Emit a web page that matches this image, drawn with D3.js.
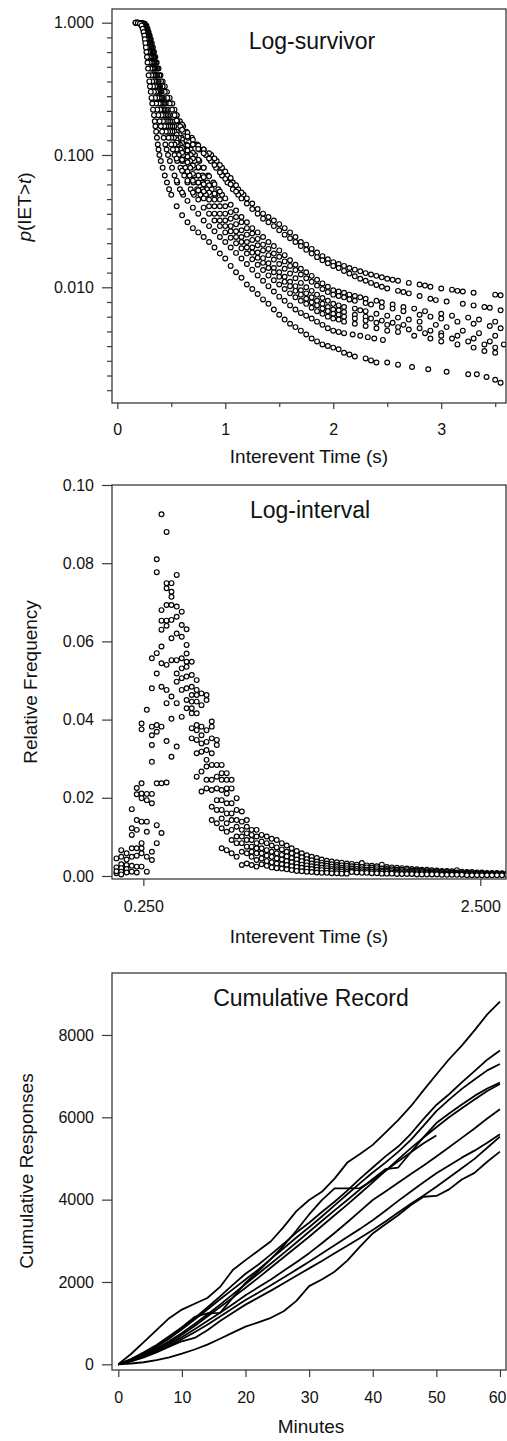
<!DOCTYPE html>
<html lang="en">
<head>
<meta charset="utf-8">
<style>
    body { margin: 0; background: #fff; }
    svg { display: block; }
    .box { fill: none; stroke: #3a3a3a; stroke-width: 1.3; }
    .dot { fill: #fff; stroke: #000; stroke-width: 1.15; }
    .record { fill: none; stroke: #000; stroke-width: 1.8; stroke-linejoin: round; }
</style>
</head>
<body>
<svg width="507" height="1441"></svg>
<script src="https://d3js.org/d3.v7.min.js"></script>
<script>
// ---------- Log-survivor: 10 sessions (A..J) ----------
// steep part: time (s) at which each session's survivor falls to each level
var survLevels = [1, 0.995, 0.98, 0.95, 0.9, 0.85, 0.8, 0.75, 0.7, 0.65, 0.6, 0.55, 0.5, 0.45, 0.4, 0.36, 0.33, 0.3,
    0.27, 0.245, 0.22, 0.2, 0.18, 0.165, 0.15, 0.135, 0.12, 0.11, 0.1, 0.09, 0.08, 0.07, 0.062, 0.055, 0.05];
var survLevelTimes = [
    [0.20,0.23,0.255,0.27,0.28,0.29,0.30,0.31,0.32,0.33,0.34,0.352,0.365,0.382,0.40,0.42,0.44,0.46,0.485,0.51,0.53,0.55,0.58,0.61,0.64,0.69,0.74,0.80,0.87,0.92,0.97,1.02,1.07,1.12,1.17],
    [0.19,0.225,0.25,0.265,0.275,0.285,0.295,0.303,0.31,0.32,0.33,0.342,0.355,0.372,0.39,0.405,0.42,0.44,0.463,0.485,0.507,0.53,0.557,0.583,0.61,0.655,0.70,0.76,0.82,0.865,0.915,0.97,1.02,1.07,1.12],
    [0.19,0.22,0.245,0.26,0.27,0.28,0.29,0.298,0.305,0.315,0.325,0.335,0.345,0.357,0.37,0.383,0.396,0.41,0.43,0.448,0.466,0.485,0.507,0.528,0.55,0.595,0.64,0.68,0.72,0.76,0.80,0.84,0.89,0.935,0.97],
    [0.19,0.22,0.24,0.255,0.265,0.275,0.285,0.293,0.30,0.31,0.32,0.33,0.34,0.352,0.365,0.377,0.388,0.40,0.418,0.435,0.452,0.47,0.49,0.51,0.53,0.57,0.61,0.645,0.68,0.715,0.75,0.79,0.835,0.875,0.91],
    [0.18,0.21,0.235,0.25,0.26,0.27,0.28,0.288,0.295,0.303,0.31,0.32,0.33,0.342,0.355,0.367,0.378,0.39,0.406,0.422,0.438,0.455,0.473,0.491,0.51,0.545,0.58,0.61,0.64,0.675,0.71,0.75,0.79,0.83,0.86],
    [0.18,0.21,0.23,0.245,0.255,0.265,0.275,0.283,0.29,0.297,0.305,0.315,0.325,0.335,0.345,0.357,0.368,0.38,0.395,0.41,0.425,0.44,0.457,0.473,0.49,0.525,0.56,0.585,0.61,0.64,0.675,0.71,0.75,0.79,0.82],
    [0.18,0.20,0.225,0.24,0.25,0.26,0.27,0.278,0.285,0.292,0.30,0.31,0.32,0.33,0.34,0.35,0.36,0.37,0.384,0.397,0.41,0.425,0.44,0.455,0.47,0.50,0.53,0.55,0.57,0.60,0.63,0.67,0.705,0.74,0.77],
    [0.17,0.20,0.22,0.235,0.245,0.255,0.265,0.272,0.28,0.288,0.295,0.302,0.31,0.32,0.33,0.34,0.35,0.36,0.372,0.385,0.397,0.41,0.423,0.436,0.45,0.475,0.50,0.515,0.53,0.555,0.585,0.62,0.65,0.68,0.71],
    [0.17,0.19,0.215,0.23,0.24,0.25,0.26,0.265,0.27,0.278,0.285,0.292,0.30,0.307,0.315,0.323,0.331,0.34,0.35,0.36,0.37,0.38,0.392,0.403,0.415,0.43,0.445,0.457,0.47,0.487,0.507,0.53,0.555,0.58,0.61],
    [0.17,0.19,0.21,0.225,0.235,0.243,0.25,0.255,0.26,0.265,0.27,0.275,0.28,0.285,0.29,0.297,0.303,0.31,0.317,0.324,0.331,0.34,0.347,0.353,0.36,0.367,0.375,0.382,0.39,0.403,0.42,0.44,0.46,0.48,0.50]
];
// body: survivor value of each session at these times
var survTimes = [0.55,0.6,0.65,0.7,0.75,0.8,0.85,0.9,0.95,1.0,1.05,1.1,1.15,1.2,1.25,1.3,1.35,1.4,1.45,1.5,
    1.55,1.6,1.65,1.7,1.75,1.8,1.85,1.9,1.95,2.0];
var survBody = [
    [0.2,0.17,0.147,0.13,0.118,0.11,0.103,0.094,0.084,0.075,0.067,0.059,0.052,0.047,0.043,0.039,0.036,0.034,0.032,0.03,0.028,0.026,0.024,0.022,0.021,0.0195,0.0183,0.0172,0.0163,0.0155],
    [0.182,0.155,0.138,0.12,0.111,0.103,0.094,0.084,0.074,0.066,0.06,0.053,0.047,0.043,0.039,0.036,0.033,0.031,0.029,0.027,0.025,0.0235,0.022,0.0205,0.0192,0.018,0.0169,0.016,0.0152,0.0145],
    [0.15,0.131,0.118,0.104,0.092,0.08,0.069,0.06,0.053,0.047,0.042,0.038,0.034,0.031,0.028,0.026,0.024,0.022,0.0205,0.019,0.0175,0.016,0.0148,0.0138,0.013,0.0122,0.0114,0.0107,0.0101,0.0095],
    [0.142,0.123,0.108,0.094,0.081,0.068,0.059,0.051,0.046,0.041,0.037,0.034,0.031,0.028,0.0255,0.0232,0.021,0.0195,0.018,0.017,0.0157,0.0145,0.0135,0.0125,0.0117,0.011,0.0103,0.0097,0.0092,0.0088],
    [0.13,0.113,0.097,0.083,0.07,0.06,0.052,0.046,0.041,0.036,0.033,0.03,0.027,0.025,0.0228,0.0208,0.019,0.0175,0.0162,0.015,0.0138,0.0127,0.0117,0.0108,0.01,0.0094,0.0088,0.0083,0.0079,0.0075],
    [0.124,0.104,0.088,0.072,0.062,0.053,0.046,0.041,0.036,0.032,0.029,0.0265,0.024,0.022,0.02,0.0183,0.0166,0.0152,0.014,0.013,0.012,0.011,0.0102,0.0095,0.009,0.0084,0.0079,0.0075,0.0071,0.0068],
    [0.11,0.092,0.075,0.064,0.054,0.047,0.041,0.036,0.032,0.029,0.0265,0.024,0.022,0.02,0.0183,0.0167,0.0153,0.014,0.013,0.012,0.011,0.0102,0.0094,0.0088,0.0082,0.0077,0.0073,0.0069,0.0066,0.0063],
    [0.094,0.076,0.064,0.052,0.046,0.04,0.036,0.032,0.029,0.026,0.0237,0.0215,0.0197,0.018,0.0163,0.0148,0.0135,0.0123,0.0113,0.0105,0.0097,0.009,0.0084,0.0079,0.0075,0.007,0.0066,0.0063,0.006,0.0058],
    [0.064,0.052,0.045,0.04,0.036,0.032,0.029,0.0265,0.024,0.022,0.02,0.0182,0.0165,0.015,0.0136,0.0123,0.0112,0.0102,0.0093,0.0085,0.0079,0.0073,0.0068,0.0064,0.0061,0.0058,0.0055,0.0052,0.0049,0.0047],
    [0.041,0.035,0.031,0.028,0.026,0.024,0.022,0.02,0.018,0.0165,0.0145,0.013,0.0118,0.0105,0.0097,0.0089,0.0081,0.0075,0.0068,0.0062,0.0057,0.0053,0.005,0.0047,0.0044,0.0041,0.0039,0.0037,0.0036,0.0035]
];
// tail: sparse [time, survivor] points after 2 s
var survTail = [
    [[2.05,0.015],[2.1,0.0145],[2.15,0.014],[2.2,0.0136],[2.25,0.0132],[2.3,0.0128],[2.35,0.0125],[2.4,0.0122],[2.45,0.0119],[2.5,0.0116],[2.55,0.0114],[2.6,0.0112],[2.7,0.0108],[2.8,0.0105],[2.85,0.0103],[2.9,0.0101],[3.0,0.0098],[3.1,0.0096],[3.15,0.0094],[3.2,0.0093],[3.3,0.0091],[3.5,0.0088],[3.55,0.0087]],
    [[2.05,0.014],[2.1,0.0133],[2.15,0.0127],[2.2,0.0121],[2.25,0.0116],[2.3,0.0112],[2.35,0.0108],[2.4,0.0104],[2.45,0.0101],[2.5,0.0098],[2.6,0.0094],[2.65,0.0092],[2.7,0.009],[2.8,0.0086],[2.9,0.0082],[2.95,0.008],[3.05,0.0078],[3.2,0.0075],[3.3,0.0073],[3.4,0.0071],[3.45,0.007],[3.55,0.0067]],
    [[2.05,0.0093],[2.1,0.0091],[2.15,0.0088],[2.2,0.0086],[2.25,0.0084],[2.3,0.0082],[2.4,0.0079],[2.45,0.0077],[2.55,0.0074],[2.65,0.0071],[2.75,0.0069],[2.85,0.0066],[3.0,0.0063],[3.1,0.0061],[3.25,0.0059],[3.35,0.0057],[3.5,0.0055]],
    [[2.05,0.0086],[2.1,0.0084],[2.15,0.0081],[2.2,0.0079],[2.3,0.0076],[2.35,0.0074],[2.45,0.0071],[2.55,0.0069],[2.65,0.0066],[2.8,0.0062],[2.9,0.006],[3.0,0.0058],[3.15,0.0055],[3.3,0.0053],[3.45,0.0051],[3.55,0.0049]],
    [[2.05,0.0073],[2.1,0.0071],[2.2,0.0069],[2.25,0.0067],[2.3,0.0066],[2.4,0.0063],[2.5,0.0061],[2.6,0.0059],[2.7,0.0057],[2.8,0.0055],[2.95,0.0052],[3.05,0.005],[3.2,0.0047],[3.35,0.0045],[3.5,0.0043]],
    [[2.05,0.0067],[2.1,0.0065],[2.2,0.0062],[2.3,0.006],[2.35,0.0058],[2.45,0.0056],[2.55,0.0054],[2.65,0.0052],[2.8,0.0049],[2.9,0.0047],[3.0,0.0045],[3.15,0.0043],[3.3,0.0041],[3.45,0.0039],[3.58,0.0037]],
    [[2.05,0.0062],[2.1,0.006],[2.2,0.0058],[2.3,0.0056],[2.4,0.0054],[2.5,0.0052],[2.6,0.005],[2.7,0.0048],[2.85,0.0045],[3.0,0.0043],[3.1,0.0041],[3.25,0.0039],[3.4,0.0037],[3.5,0.0035]],
    [[2.05,0.0057],[2.1,0.0055],[2.2,0.0053],[2.3,0.0051],[2.4,0.0049],[2.5,0.0047],[2.6,0.0046],[2.75,0.0043],[2.9,0.0041],[3.0,0.0039],[3.15,0.0037],[3.3,0.0035],[3.4,0.0033],[3.5,0.0032]],
    [[2.05,0.0046],[2.1,0.0045],[2.18,0.0044],[2.25,0.0043],[2.32,0.0042],[2.38,0.0041],[2.46,0.004]],
    [[2.05,0.0034],[2.1,0.0032],[2.15,0.0031],[2.2,0.003],[2.3,0.0029],[2.35,0.0028],[2.4,0.0027],[2.5,0.0027],[2.6,0.0026],[2.73,0.0025],[2.88,0.0024],[3.05,0.0023],[3.25,0.0022],[3.33,0.0022],[3.42,0.0021],[3.5,0.002],[3.55,0.0019]]
];
var survXTicks = [0, 1, 2, 3];
var survXMinor = [0.5, 1.5, 2.5, 3.5];
var survYTicks = [1, 0.1, 0.01];

// ---------- Log-interval: relative frequency per log-spaced bin ----------
var freqBins = [0.208,0.215,0.223,0.231,0.239,0.247,0.256,0.265,0.274,0.283,0.293,0.303,0.314,0.325,0.336,0.348,0.360,0.372,0.385,0.399,
    0.413,0.427,0.442,0.457,0.473,0.490,0.507,0.524,0.542,0.561,0.581,0.601,0.622,0.644,0.666,0.689,0.713,0.738,0.764,0.790,
    0.818,0.846,0.876,0.906,0.938,0.970,1.004,1.039,1.075,1.113,1.151,1.191,1.233,1.276,1.320,1.366,1.414,1.463,1.514,1.566,
    1.621,1.677,1.736,1.796,1.858,1.923,1.990,2.059,2.131,2.205,2.282,2.361,2.443,2.528,2.616,2.707,2.801,2.899,2.999];
var freqValues = [
    [0.0045,0.0022,0.0007,0.0012],
    [0.0066,0.0049,0.003,0.002,0.0011,0.0004],
    [0.0058,0.0042,0.0028,0.0018,0.0009],
    [0.0171,0.0122,0.0105,0.0071,0.0049,0.0026,0.0011],
    [0.0225,0.0209,0.0143,0.0118,0.0071,0.0052,0.0024,0.0009],
    [0.039,0.0375,0.0237,0.0211,0.0199,0.0139,0.0084,0.0071,0.0058,0.0024],
    [0.0425,0.021,0.0194,0.0139,0.0113,0.0049,0.0011],
    [0.0557,0.048,0.0382,0.036,0.0335,0.0292,0.021,0.0186,0.0062,0.0041],
    [0.081,0.0777,0.057,0.0518,0.0386,0.0369,0.0237,0.013,0.0084],
    [0.0925,0.068,0.0653,0.063,0.0587,0.0544,0.0484,0.0382,0.0237,0.011],
    [0.088,0.0749,0.0736,0.0693,0.0653,0.064,0.054,0.0476,0.0442,0.0345,0.0239],
    [0.0749,0.0727,0.0714,0.0693,0.0655,0.0608,0.0552,0.0459,0.0402,0.0305],
    [0.077,0.0689,0.0663,0.062,0.0552,0.0518,0.0497,0.0442,0.0331],
    [0.0676,0.0642,0.0612,0.0557,0.0531,0.0506,0.0476,0.0407],
    [0.0631,0.0591,0.0569,0.0548,0.0535,0.051,0.048,0.045,0.0429],
    [0.0548,0.0514,0.0484,0.0463,0.0446,0.0429,0.0416,0.0378,0.0352],
    [0.0501,0.0476,0.0463,0.0446,0.0416,0.0386,0.0373,0.0348,0.0314,0.0254],
    [0.0467,0.0437,0.0382,0.036,0.0339,0.0318,0.0267,0.0216],
    [0.0463,0.045,0.0373,0.0343,0.0322,0.0297,0.028,0.0246,0.0224],
    [0.0395,0.0382,0.0352,0.0314,0.0284,0.0246,0.022,0.0177,0.0143],
    [0.0348,0.0335,0.0284,0.0254,0.0224,0.0194,0.0169,0.0135],
    [0.0284,0.0263,0.0246,0.022,0.0194,0.0169,0.0147,0.0122,0.0071],
    [0.0263,0.0246,0.0224,0.0211,0.0186,0.016,0.0135,0.0113,0.0066],
    [0.0246,0.0224,0.0186,0.016,0.0143,0.0118,0.0092,0.0058],
    [0.0199,0.0169,0.0143,0.0126,0.0101,0.0084,0.0049],
    [0.0165,0.0139,0.0118,0.0101,0.0084,0.0062,0.0028],
    [0.0143,0.0126,0.0109,0.0092,0.0075,0.0058,0.0032],
    [0.0118,0.0105,0.0092,0.0075,0.0062,0.0049,0.0028],
    [0.0118,0.0101,0.0084,0.0071,0.0058,0.0041,0.0024],
    [0.0105,0.0088,0.0071,0.0058,0.0045,0.003],
    [0.0101,0.0084,0.0066,0.0052,0.0038,0.0026],
    [0.0095,0.0078,0.0062,0.0049,0.0035,0.0022],
    [0.0092,0.0073,0.0058,0.0045,0.0032,0.002],
    [0.0084,0.0068,0.0054,0.0042,0.003,0.0019],
    [0.0078,0.0062,0.005,0.0038,0.0028,0.0017],
    [0.0071,0.0058,0.0046,0.0035,0.0025,0.0015],
    [0.0064,0.0052,0.0042,0.0032,0.0023,0.0013],
    [0.0058,0.0048,0.0038,0.0029,0.0021,0.0012],
    [0.0053,0.0043,0.0035,0.0027,0.0019,0.0011],
    [0.0049,0.004,0.0032,0.0025,0.0018,0.001],
    [0.0046,0.0037,0.003,0.0023,0.0016,0.0009],
    [0.0042,0.0034,0.0028,0.0021,0.0015,0.0008],
    [0.0039,0.0032,0.0026,0.002,0.0014,0.0008],
    [0.0037,0.003,0.0024,0.0018,0.0013,0.0007],
    [0.0035,0.0028,0.0023,0.0017,0.0012,0.0007],
    [0.0034,0.0027,0.0021,0.0016,0.0011,0.0006],
    [0.0032,0.0026,0.002,0.0015,0.001,0.0006],
    [0.0031,0.0025,0.0019,0.0014,0.001],
    [0.0029,0.0024,0.0018,0.0013,0.0009],
    [0.0033,0.0023,0.0017,0.0012,0.0008],
    [0.0027,0.0022,0.0016,0.0012,0.0008],
    [0.0026,0.0021,0.0016,0.0011,0.0007],
    [0.0025,0.002,0.0015,0.0011,0.0007],
    [0.0029,0.0019,0.0014,0.001,0.0006],
    [0.0023,0.0018,0.0014,0.001,0.0006],
    [0.0022,0.0017,0.0013,0.0009,0.0006],
    [0.0021,0.0016,0.0012,0.0009,0.0005],
    [0.002,0.0016,0.0012,0.0008,0.0005],
    [0.0019,0.0015,0.0011,0.0008,0.0005],
    [0.0018,0.0014,0.0011,0.0008,0.0005],
    [0.0017,0.0014,0.001,0.0007,0.0004],
    [0.0016,0.0013,0.001,0.0007,0.0004],
    [0.0016,0.0012,0.0009,0.0007,0.0004],
    [0.0015,0.0012,0.0009,0.0006,0.0004],
    [0.0014,0.0011,0.0008,0.0006,0.0004],
    [0.0013,0.001,0.0008,0.0006,0.0003],
    [0.0013,0.001,0.0007,0.0005,0.0003],
    [0.0012,0.0009,0.0007,0.0005,0.0003],
    [0.0015,0.0009,0.0007,0.0005,0.0003],
    [0.0011,0.0008,0.0006,0.0004,0.0003],
    [0.001,0.0008,0.0006,0.0004,0.0002],
    [0.001,0.0007,0.0005,0.0004,0.0002],
    [0.0009,0.0007,0.0005,0.0004,0.0002],
    [0.0009,0.0007,0.0005,0.0003,0.0002],
    [0.0008,0.0006,0.0005,0.0003,0.0002],
    [0.0008,0.0006,0.0004,0.0003,0.0002],
    [0.0008,0.0006,0.0004,0.0003,0.0002],
    [0.0007,0.0005,0.0004,0.0003,0.0002],
    [0.0007,0.0005,0.0004,0.0003,0.0002]
];
var freqXTicks = [0.25, 2.5];
var freqYTicks = [0, 0.02, 0.04, 0.06, 0.08, 0.10];

// ---------- Cumulative record: responses every 2 minutes ----------
var minutes = [0,2,4,6,8,10,12,14,16,18,20,22,24,26,28,30,32,34,36,38,40,42,44,46,48,50,52,54,56,58,60];
var cumRecords = [
    [0,250,540,830,1120,1330,1470,1610,1880,2290,2530,2760,2990,3340,3720,3990,4190,4510,4900,5110,5330,5630,5930,6270,6660,7040,7410,7740,8110,8500,8810],
    [0,110,250,420,620,860,1120,1380,1650,1930,2200,2420,2670,2930,3200,3440,3700,3950,4220,4510,4780,5050,5290,5600,5960,6300,6560,6850,7120,7400,7620],
    [0,120,260,440,640,850,1090,1330,1580,1820,2060,2300,2560,2820,3080,3330,3590,3860,4130,4400,4660,4900,5160,5450,5800,6150,6430,6690,6920,7140,7295],
    [0,100,220,380,560,760,980,1210,1450,1700,1950,2200,2450,2700,2960,3220,3480,3740,3990,4250,4500,4740,4780,5150,5520,5860,6090,6310,6520,6700,6842],
    [0,90,210,360,530,720,930,1160,1390,1620,1860,2100,2350,2600,2850,3100,3360,3620,3880,4150,4420,4700,4980,5250,5510,5760,6000,6220,6430,6640,6810],
    [0,130,290,470,680,900,1150,1240,1250,1620,1980,2260,2560,2880,3250,3640,3990,4275,4275,4280,4470,4700,4930,5150,5370,5560],
    [0,80,190,330,490,660,850,1050,1250,1460,1680,1870,2060,2270,2480,2700,2940,3190,3450,3720,3990,4200,4410,4620,4830,5050,5270,5500,5730,5970,6194],
    [0,80,180,300,450,610,780,960,1160,1360,1560,1740,1920,2110,2300,2490,2690,2890,3090,3290,3500,3730,3970,4200,4420,4640,4830,5020,5190,5380,5587],
    [0,70,170,290,430,560,640,830,1050,1250,1450,1620,1790,1970,2150,2330,2510,2700,2880,3070,3260,3470,3690,3900,4100,4315,4540,4760,4990,5260,5530],
    [0,20,50,100,170,260,360,480,620,770,915,1020,1130,1290,1540,1900,2060,2250,2520,2860,3180,3400,3620,3870,4070,4090,4250,4490,4650,4920,5166]
];
var cumXTicks = [0, 10, 20, 30, 40, 50, 60];
var cumYTicks = [0, 2000, 4000, 6000, 8000];

//set up svg canvas
var svg = d3.select("svg");
var font = '"Liberation Sans", Arial, Helvetica, sans-serif';

var boxSurv = {left: 112, right: 506, top: 9, bottom: 403},
    boxFreq = {left: 112, right: 506, top: 485, bottom: 879},
    boxCum = {left: 112, right: 506, top: 973, bottom: 1370};

var survX = d3.scaleLinear().domain([-0.049, 3.60]).range([boxSurv.left, boxSurv.right]),
    survY = d3.scaleLog().domain([1.269, 0.001335]).range([boxSurv.top, boxSurv.bottom]);
var freqX = d3.scaleLog().domain([0.2018, 2.98]).range([boxFreq.left, boxFreq.right]),
    freqY = d3.scaleLinear().domain([-0.00077, 0.1]).range([boxFreq.bottom, boxFreq.top]);
var cumX = d3.scaleLinear().domain([-0.99, 60.95]).range([boxCum.left, boxCum.right]),
    cumY = d3.scaleLinear().domain([-138, 9505]).range([boxCum.bottom, boxCum.top]);

function clipFor(id, b) {
    svg.append("clipPath").attr("id", id)
        .append("rect")
        .attr("x", b.left).attr("y", b.top)
        .attr("width", b.right - b.left).attr("height", b.bottom - b.top);
}

function drawBox(b) {
    svg.append("rect")
        .attr("class", "box")
        .attr("x", b.left).attr("y", b.top)
        .attr("width", b.right - b.left).attr("height", b.bottom - b.top);
}

function styleAxis(g) {
    g.select(".domain").remove();
    g.selectAll("line").attr("stroke", "#3a3a3a").attr("stroke-width", 1.2);
    g.selectAll("text").attr("font-family", font).attr("font-size", 16).attr("fill", "#111");
}

function leftAxis(scale, b, values, fmt, size) {
    var g = svg.append("g")
        .attr("transform", "translate(" + b.left + ",0)")
        .call(d3.axisLeft(scale).tickValues(values).tickFormat(fmt)
            .tickSize(size).tickSizeOuter(0).tickPadding(8));
    styleAxis(g);
    return g;
}

function bottomAxis(scale, b, values, fmt, size) {
    var g = svg.append("g")
        .attr("transform", "translate(0," + b.bottom + ")")
        .call(d3.axisBottom(scale).tickValues(values).tickFormat(fmt)
            .tickSize(size).tickSizeOuter(0).tickPadding(15));
    styleAxis(g);
    return g;
}

function label(x, y, str, size, rotate) {
    var t = svg.append("text")
        .attr("font-family", font)
        .attr("font-size", size)
        .attr("fill", "#111")
        .attr("text-anchor", "middle");
    if (rotate) {
        t.attr("transform", "translate(" + x + "," + y + ") rotate(-90)");
    } else {
        t.attr("x", x).attr("y", y);
    }
    return t.text(str);
}

var blank = function() { return ""; };

// ---------- panel 1 ----------
clipFor("clipSurv", boxSurv);
var survPoints = [];
for (var i = 0; i < survLevelTimes.length; i++) {
    survLevelTimes[i].forEach(function(t, j) { survPoints.push({t: t, p: survLevels[j]}); });
    survBody[i].forEach(function(p, j) { survPoints.push({t: survTimes[j], p: p}); });
    survTail[i].forEach(function(d) { survPoints.push({t: d[0], p: d[1]}); });
}
svg.append("g").attr("clip-path", "url(#clipSurv)")
    .selectAll("circle")
    .data(survPoints)
    .enter().append("circle")
    .attr("class", "dot")
    .attr("cx", function(d) { return survX(d.t); })
    .attr("cy", function(d) { return survY(d.p); })
    .attr("r", 2.4);
drawBox(boxSurv);

// minor log ticks, nine per decade evenly spaced in log units
var survYMinor = [];
for (var k = 1; k <= 25; k++) {
    if (k % 9 !== 0) survYMinor.push(Math.pow(10, -k / 9));
}
leftAxis(survY, boxSurv, survYTicks, d3.format(".3f"), 10);
leftAxis(survY, boxSurv, survYMinor, blank, 5);
bottomAxis(survX, boxSurv, survXTicks, d3.format("d"), 6);
bottomAxis(survX, boxSurv, survXMinor, blank, 4);

label(312, 49, "Log-survivor", 23);
label(309, 463, "Interevent Time (s)", 19);
var yl = label(31, 207, "", 19, true);
yl.append("tspan").attr("font-style", "italic").text("p");
yl.append("tspan").text("(IET>");
yl.append("tspan").attr("font-style", "italic").text("t");
yl.append("tspan").text(")");

// ---------- panel 2 ----------
clipFor("clipFreq", boxFreq);
var freqPoints = [];
freqBins.forEach(function(t, k) {
    (freqValues[k] || []).forEach(function(v) { freqPoints.push({t: t, v: v}); });
});
svg.append("g").attr("clip-path", "url(#clipFreq)")
    .selectAll("circle")
    .data(freqPoints)
    .enter().append("circle")
    .attr("class", "dot")
    .attr("cx", function(d) { return freqX(d.t); })
    .attr("cy", function(d) { return freqY(d.v); })
    .attr("r", 2.4);
drawBox(boxFreq);
leftAxis(freqY, boxFreq, freqYTicks, d3.format(".2f"), 10);
bottomAxis(freqX, boxFreq, freqXTicks, d3.format(".3f"), 7);

label(310, 518, "Log-interval", 23);
label(309, 943, "Interevent Time (s)", 19);
label(37, 682, "Relative Frequency", 19, true);

// ---------- panel 3 ----------
clipFor("clipCum", boxCum);
var line = d3.line()
    .x(function(d, j) { return cumX(minutes[j]); })
    .y(function(d) { return cumY(d); });
svg.append("g").attr("clip-path", "url(#clipCum)")
    .selectAll("path")
    .data(cumRecords)
    .enter().append("path")
    .attr("class", "record")
    .attr("d", line);
drawBox(boxCum);
leftAxis(cumY, boxCum, cumYTicks, d3.format("d"), 10);
var cumAxis = bottomAxis(cumX, boxCum, cumXTicks, d3.format("d"), 7);
// keep the last label inside the page edge
cumAxis.selectAll(".tick text")
    .filter(function(d) { return d === 60; })
    .attr("text-anchor", "end")
    .attr("x", 6);

label(311, 1006, "Cumulative Record", 23);
label(311, 1433, "Minutes", 19);
label(33, 1171, "Cumulative Responses", 19, true);
</script>
</body>
</html>
